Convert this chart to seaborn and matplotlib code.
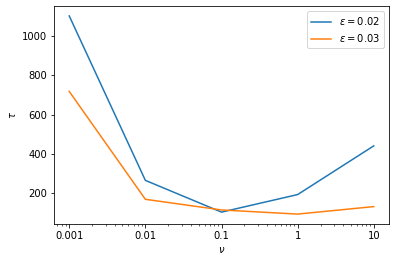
import pandas as pd
import matplotlib
matplotlib.use("Agg")
import matplotlib.pyplot as plt
import seaborn as sns

# values
nu = [0.001, 0.01, 0.1, 1, 10]
tau_002 = [1100, 266, 105, 194, 441]
tau_003 = [717, 170, 116, 95, 133]
labels = [r'$\epsilon = 0.02$', r'$\epsilon = 0.03$']

df = pd.DataFrame({
    'nu': nu * 2,
    'tau': tau_002 + tau_003,
    'eps': [labels[0]] * len(nu) + [labels[1]] * len(nu),
})

fig = plt.figure(figsize=(395 / 72, 262 / 72), dpi=72)
ax = fig.add_axes([54 / 395, 38 / 262, 335 / 395, 218 / 262])
sns.lineplot(data=df, x='nu', y='tau', hue='eps',
             palette=['#1f77b4', '#ff7f0e'], ax=ax, linewidth=1.5)
ax.set_xscale('log')
ax.set_xticks(nu)
ax.set_xticklabels(['0.001', '0.01', '0.1', '1', '10'])
ax.set_xlabel(r'$\nu$')
ax.set_ylabel(r'$\tau$')
ax.legend(title=None, loc='upper right')

fig.savefig("out.png", dpi=72)
